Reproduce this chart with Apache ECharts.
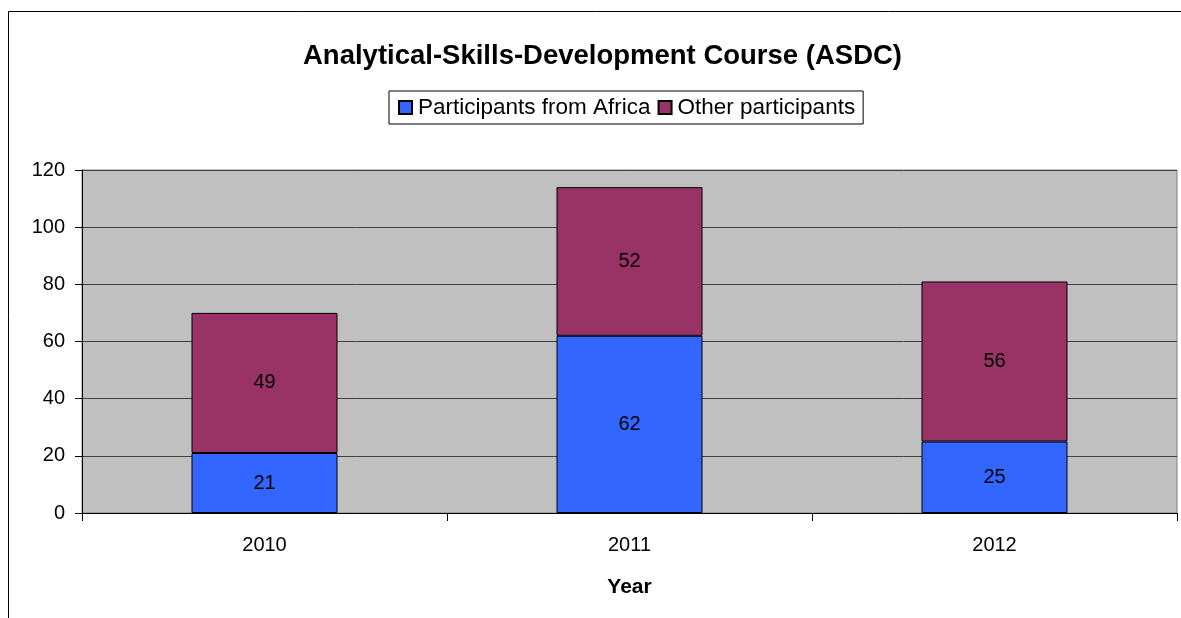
<!DOCTYPE html>
<html>
<head>
<meta charset="utf-8">
<script src="https://cdn.jsdelivr.net/npm/echarts@6/dist/echarts.min.js"></script>
<style>
html,body{margin:0;padding:0;background:#fff;}
#c{width:1181px;height:618px;}
</style>
</head>
<body>
<div id="c"></div>
<script>
const categories = ['2010', '2011', '2012'];
const africa = [21, 62, 25];
const other = [49, 52, 56];
const seriesNames = ['Participants from Africa', 'Other participants'];
const yTicks = { min: 0, max: 120, interval: 20 };

const FONT = '"Liberation Sans", Arial, sans-serif';
const chart = echarts.init(document.getElementById('c'), null, { renderer: 'canvas' });
const label = { show: true, position: 'inside', color: '#000', fontSize: 20, fontFamily: FONT };
chart.setOption({
  animation: false,
  backgroundColor: '#fff',
  textStyle: { fontFamily: FONT },
  title: {
    text: 'Analytical-Skills-Development Course (ASDC)',
    left: 298, top: 37,
    textStyle: { fontSize: 27.5, fontWeight: 'bold', color: '#000', fontFamily: FONT }
  },
  legend: {
    top: 91, left: 389,
    itemWidth: 13, itemHeight: 13, itemGap: 7,
    borderColor: '#000', borderWidth: 1, padding: [5, 8, 5, 9],
    icon: 'rect',
    textStyle: { fontSize: 22.5, color: '#000', fontFamily: FONT, padding: [0, 0, 0, 1] },
    data: seriesNames
  },
  graphic: [{
    type: 'rect', silent: true, z: -1,
    shape: { x: 8.5, y: 11.5, width: 1300, height: 800 },
    style: { fill: 'none', stroke: '#000', lineWidth: 1 }
  }],
  grid: {
    left: 82, right: 4, top: 170, bottom: 105,
    show: true, backgroundColor: '#C0C0C0', borderColor: '#808080', borderWidth: 1
  },
  xAxis: {
    type: 'category', data: categories,
    name: 'Year', nameLocation: 'middle', nameGap: 64,
    nameTextStyle: { fontSize: 21, fontWeight: 'bold', color: '#000', fontFamily: FONT },
    axisLine: { lineStyle: { color: '#000', width: 1 } },
    axisTick: { show: true, length: 8, lineStyle: { color: '#000' } },
    axisLabel: { fontSize: 20, color: '#000', margin: 22, fontFamily: FONT }
  },
  yAxis: {
    type: 'value', min: yTicks.min, max: yTicks.max, interval: yTicks.interval,
    axisLine: { show: true, lineStyle: { color: '#000', width: 1 } },
    axisTick: { show: true, length: 7, lineStyle: { color: '#000' } },
    axisLabel: { fontSize: 20, color: '#000', margin: 17, fontFamily: FONT },
    splitLine: { show: true, lineStyle: { color: '#404040', width: 1 } }
  },
  series: [
    {
      name: seriesNames[0], type: 'bar', stack: 'total', data: africa,
      barWidth: '40%',
      itemStyle: { color: '#3366FF', borderColor: '#000', borderWidth: 1 },
      label: label
    },
    {
      name: seriesNames[1], type: 'bar', stack: 'total', data: other,
      barWidth: '40%',
      itemStyle: { color: '#993366', borderColor: '#000', borderWidth: 1 },
      label: label
    }
  ]
});
</script>
</body>
</html>
